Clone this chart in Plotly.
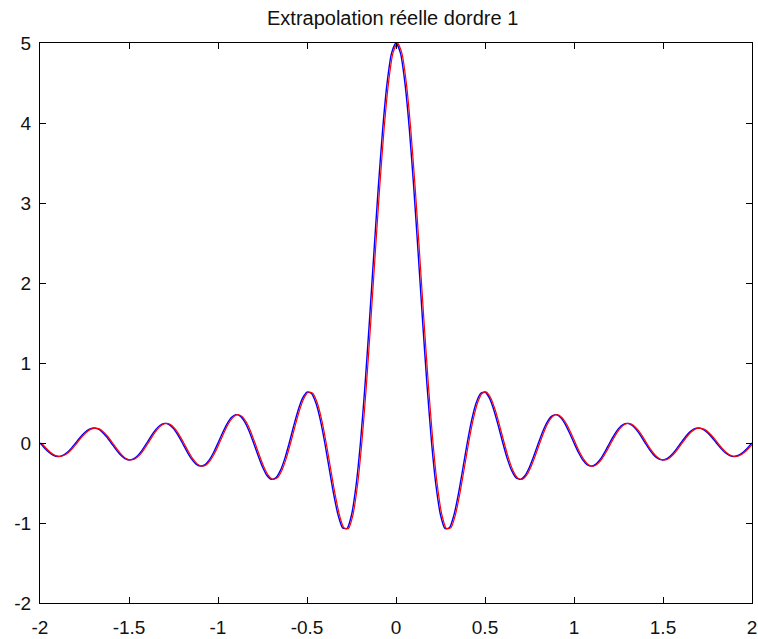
import plotly.graph_objects as go

# Sample positions (step 0.025 from -2 to 2)
x_pos = [round(k * 0.025, 3) for k in range(0, 81)]

# Curve values for x >= 0 (the curve is symmetric)
y_pos = [
    5.0, 4.873, 4.502, 3.921, 3.183, 2.353, 1.501, 0.696, 0.0,
    -0.541, -0.900, -1.069, -1.061, -0.905, -0.643, -0.325, 0.0,
    0.287, 0.500, 0.619, 0.637, 0.560, 0.409, 0.212, 0.0,
    -0.195, -0.346, -0.436, -0.455, -0.406, -0.300, -0.157, 0.0,
    0.148, 0.265, 0.336, 0.354, 0.318, 0.237, 0.125, 0.0,
    -0.119, -0.214, -0.274, -0.289, -0.261, -0.196, -0.104, 0.0,
    0.099, 0.180, 0.231, 0.245, 0.222, 0.167, 0.089, 0.0,
    -0.086, -0.155, -0.199, -0.212, -0.193, -0.145, -0.077, 0.0,
    0.075, 0.136, 0.176, 0.187, 0.170, 0.129, 0.069, 0.0,
    -0.067, -0.122, -0.157, -0.168, -0.153, -0.115, -0.062, 0.0,
]

x_vals = [-v for v in x_pos[:0:-1]] + x_pos
y_vals = y_pos[:0:-1] + y_pos

# The extrapolated curve sits a little to the right of the original one
red_offset = 0.008
x_red = [v + red_offset for v in x_vals]
y_red = y_vals

x_ticks = [-2, -1.5, -1, -0.5, 0, 0.5, 1, 1.5, 2]
x_labels = ["-2", "-1.5", "-1", "-0.5", "0", "0.5", "1", "1.5", "2"]
y_ticks = [-2, -1, 0, 1, 2, 3, 4, 5]
y_labels = ["-2", "-1", "0", "1", "2", "3", "4", "5"]

fig = go.Figure()
fig.add_trace(go.Scatter(x=x_vals, y=y_vals, mode="lines", line_shape="spline",
                         line=dict(color="#0000ff", width=1.4, smoothing=0.6),
                         showlegend=False))
fig.add_trace(go.Scatter(x=x_red, y=y_red, mode="lines", line_shape="spline",
                         line=dict(color="#ff0000", width=1.2, smoothing=0.6),
                         showlegend=False))

tick_font = dict(family="Liberation Sans, Arial, sans-serif", size=19, color="#111111")
title_font = dict(family="Liberation Sans, Arial, sans-serif", size=20, color="#111111")
axis_common = dict(showgrid=False, zeroline=False, showline=True, linecolor="black",
                   linewidth=1, mirror="ticks", ticks="inside", ticklen=6,
                   tickcolor="black", tickwidth=1, tickfont=tick_font,
                   automargin=False)

fig.update_layout(
    width=758, height=639,
    margin=dict(l=40, r=6, t=43, b=36),
    paper_bgcolor="white", plot_bgcolor="white",
    title=dict(text="Extrapolation réelle dordre 1", x=0.518, xanchor="center",
               y=0.972, yanchor="middle", font=title_font),
    xaxis=dict(range=[-2, 2], tickvals=x_ticks, ticktext=x_labels,
               ticklabelstandoff=7, **axis_common),
    yaxis=dict(range=[-2, 5], tickvals=y_ticks, ticktext=y_labels,
               ticklabelstandoff=4, **axis_common),
)

fig.write_html("out.html")
